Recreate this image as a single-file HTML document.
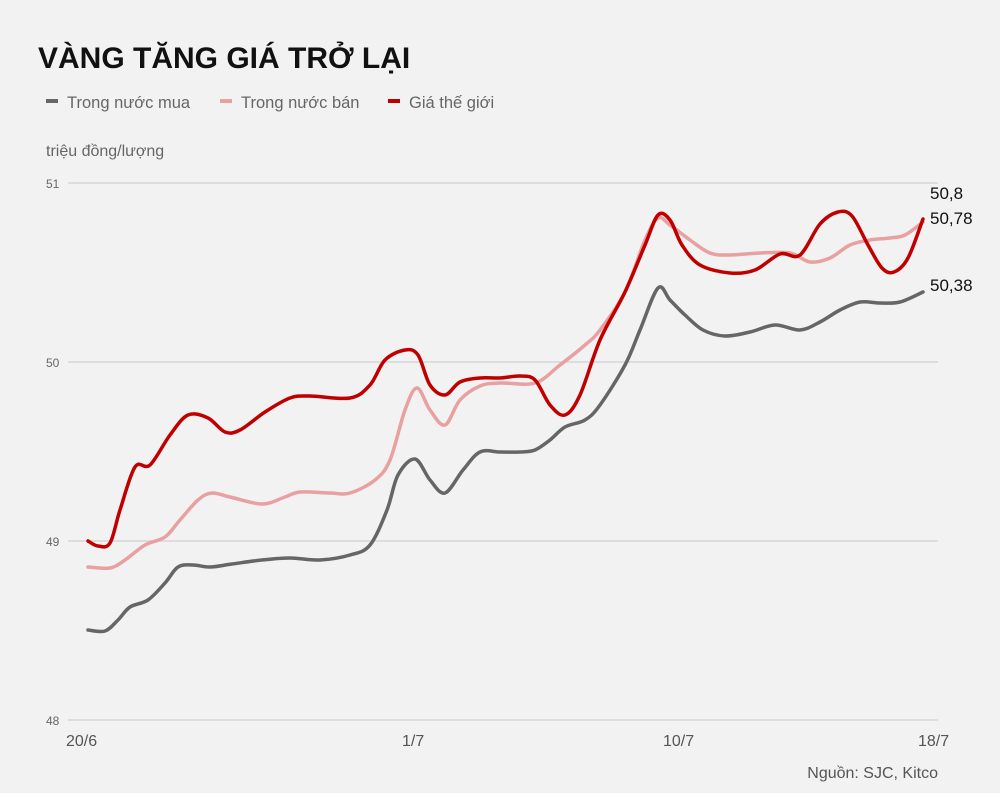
<!DOCTYPE html>
<html><head><meta charset="utf-8"><style>
body{margin:0;background:#f2f2f2;}
svg{display:block;font-family:"Liberation Sans",sans-serif;}
</style></head><body>
<svg id="s" width="1000" height="793" viewBox="0 0 1000 793">
<rect width="1000" height="793" fill="#f2f2f2"/>
<text x="38" y="68" font-size="30" font-weight="bold" fill="#111">VÀNG TĂNG GIÁ TRỞ LẠI</text>
<rect x="46" y="99" width="12" height="4" fill="#666"/>
<text x="67" y="108" font-size="16.5" fill="#666">Trong nước mua</text>
<rect x="220" y="99" width="12" height="4" fill="#e8a0a0"/>
<text x="241" y="108" font-size="16.5" fill="#666">Trong nước bán</text>
<rect x="388" y="99" width="12" height="4" fill="#c00000"/>
<text x="409" y="108" font-size="16.5" fill="#666">Giá thế giới</text>
<text x="46" y="156" font-size="16" fill="#666">triệu đồng/lượng</text>
<g stroke="#d6d6d6" stroke-width="1.5">
<line x1="68" y1="183" x2="938" y2="183"/><line x1="68" y1="362" x2="938" y2="362"/>
<line x1="68" y1="541" x2="938" y2="541"/><line x1="68" y1="720" x2="938" y2="720"/>
</g>
<g font-size="12" fill="#666">
<text x="46" y="188">51</text><text x="46" y="367">50</text><text x="46" y="546">49</text><text x="46" y="725">48</text>
</g>
<g font-size="16" fill="#555">
<text x="66" y="746">20/6</text><text x="402" y="746">1/7</text><text x="663" y="746">10/7</text><text x="918" y="746">18/7</text>
<text x="938" y="778" text-anchor="end">Nguồn: SJC, Kitco</text>
</g>
<g fill="none" stroke-width="3.5" stroke-linejoin="round" stroke-linecap="round">
<path id="g" stroke="#666"/><path id="p" stroke="#e8a0a0"/><path id="r" stroke="#c00000"/>
</g>
<g font-size="17" fill="#111">
<text x="930" y="199">50,8</text><text x="930" y="224">50,78</text><text x="930" y="291">50,38</text>
</g>
</svg>
<script>
function cr(p){let d="M"+p[0][0]+","+p[0][1];for(let i=0;i<p.length-1;i++){const a=p[i-1]||p[i],b=p[i],c=p[i+1],e=p[i+2]||c;
d+=" C"+(b[0]+(c[0]-a[0])/6)+","+(b[1]+(c[1]-a[1])/6)+" "+(c[0]-(e[0]-b[0])/6)+","+(c[1]-(e[1]-b[1])/6)+" "+c[0]+","+c[1];}return d;}
const G=[[88,630],[105,631],[118,620],[130,607],[148,600],[165,583],[178,567],[193,565],[210,567],[232,564],[262,560],[290,558],[320,560],[350,555],[370,545],[387,510],[398,475],[415,459],[430,480],[445,493],[463,470],[480,452],[500,452],[520,452],[535,450],[550,440],[565,427],[585,420],[600,405],[625,365],[640,330],[658,288],[670,300],[685,315],[703,330],[725,336],[750,332],[775,325],[800,330],[820,322],[840,310],[860,302],[880,303],[900,302],[923,292]];
const P=[[88,567],[110,568],[125,560],[145,545],[165,537],[180,520],[198,500],[212,493],[230,497],[262,504],[285,497],[300,492],[330,493],[350,493],[375,480],[390,460],[405,410],[417,388],[430,410],[445,425],[460,400],[480,386],[500,383],[535,383],[560,365],[585,345],[600,330],[625,292],[645,240],[658,218],[670,225],[690,240],[710,253],[730,255],[760,253],[790,253],[810,262],[830,258],[850,245],[870,240],[890,238],[905,235],[923,222]];
const R=[[88,541],[98,546],[110,543],[120,510],[135,467],[150,465],[170,435],[188,415],[208,418],[225,432],[240,430],[265,412],[290,398],[310,396],[350,398],[370,385],[385,360],[405,350],[418,355],[430,385],[445,395],[460,382],[480,378],[500,378],[520,376],[535,380],[550,405],[565,415],[580,395],[600,340],[625,292],[645,245],[658,215],[670,220],[682,245],[700,265],[730,273],[755,270],[780,254],[800,255],[820,224],[838,212],[852,216],[868,245],[882,268],[894,272],[908,258],[923,219]];
document.getElementById("g").setAttribute("d",cr(G));
document.getElementById("p").setAttribute("d",cr(P));
document.getElementById("r").setAttribute("d",cr(R));
</script>
</body></html>
